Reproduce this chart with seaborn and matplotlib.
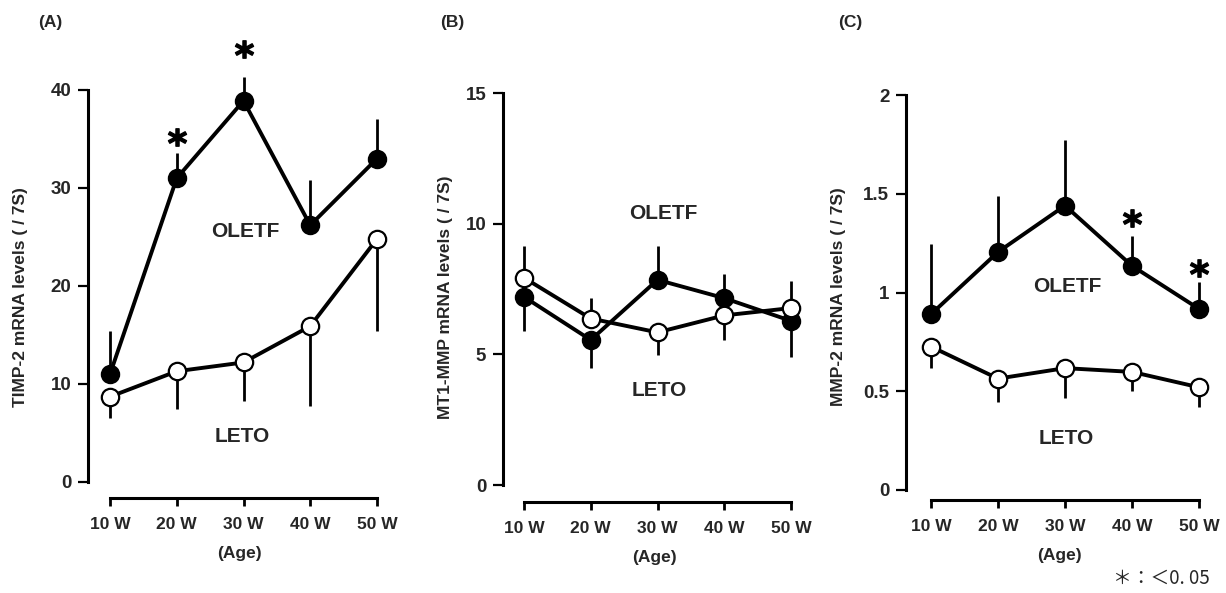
import matplotlib
matplotlib.use("Agg")
import matplotlib.pyplot as plt
import seaborn as sns
import pandas as pd
import numpy as np

# ---------------- data ----------------
ages = ["10 W", "20 W", "30 W", "40 W", "50 W"]

# Panel A: TIMP-2
timp2_oletf = [11.0, 31.0, 38.9, 26.2, 33.0]
timp2_oletf_err = [4.4, 2.6, 2.4, 4.6, 4.0]
timp2_oletf_dir = [1, 1, 1, 1, 1]
timp2_leto = [8.7, 11.3, 12.2, 15.9, 24.8]
timp2_leto_err = [2.2, 3.9, 3.9, 8.1, 9.4]
timp2_leto_dir = [-1, -1, -1, -1, -1]
timp2_yticks = [0, 10, 20, 30, 40]
timp2_sig_idx = [1, 2]
timp2_sig_y = [35.2, 44.2]

# Panel B: MT1-MMP
mt1_oletf = [7.2, 5.55, 7.85, 7.15, 6.28]
mt1_oletf_err = [1.3, 1.08, 1.3, 0.92, 1.38]
mt1_oletf_dir = [-1, -1, 1, 1, -1]
mt1_leto = [7.93, 6.37, 5.84, 6.49, 6.77]
mt1_leto_err = [1.22, 0.78, 0.87, 0.94, 1.03]
mt1_leto_dir = [1, 1, -1, -1, 1]
mt1_yticks = [0, 5, 10, 15]
mt1_sig_idx = []
mt1_sig_y = []

# Panel C: MMP-2
mmp2_oletf = [0.89, 1.205, 1.44, 1.135, 0.917]
mmp2_oletf_err = [0.355, 0.282, 0.33, 0.15, 0.136]
mmp2_oletf_dir = [1, 1, 1, 1, 1]
mmp2_leto = [0.726, 0.564, 0.617, 0.598, 0.52]
mmp2_leto_err = [0.109, 0.12, 0.15, 0.098, 0.10]
mmp2_leto_dir = [-1, -1, -1, -1, -1]
mmp2_yticks = [0, 0.5, 1, 1.5, 2]
mmp2_yticklabels = ["0", "0.5", "1", "1.5", "2"]
mmp2_sig_idx = [3, 4]
mmp2_sig_y = [1.375, 1.125]

# ---------------- style ----------------
sns.set_style("ticks")
plt.rcParams["font.family"] = ["Liberation Sans", "DejaVu Sans"]
plt.rcParams["font.weight"] = "bold"

W, H = 1226, 593
fig = plt.figure(figsize=(W / 100, H / 100), dpi=100)
fig.patch.set_facecolor("white")


def make_axes(yaxis_px, y0_px, ytop_px, ytop_val, first_px, last_px, xspine_px, top_px=40, right_margin=14):
    unit = (last_px - first_px) / 4.0
    left_px = yaxis_px
    right_px = last_px + right_margin
    xmin = -(first_px - left_px) / unit
    xmax = 4 + right_margin / unit
    yscale = (y0_px - ytop_px) / ytop_val
    ylim_top = (y0_px - top_px) / yscale
    ax = fig.add_axes([left_px / W, 1 - y0_px / H, (right_px - left_px) / W, (y0_px - top_px) / H])
    ax.set_xlim(xmin, xmax)
    ax.set_ylim(0, ylim_top)
    off_pt = (xspine_px - y0_px) * 72 / 100
    return ax, off_pt


def draw_panel(ax, off_pt, oletf, oerr, odir, leto, lerr, ldir, yticks, yticklabels,
               ylabel, ylabel_px, letter, letter_px, oletf_pos, leto_pos, sig_idx, sig_y):
    pos = np.arange(len(ages))
    df = pd.DataFrame({"pos": np.concatenate([pos, pos]),
                       "val": oletf + leto,
                       "group": ["OLETF"] * 5 + ["LETO"] * 5})
    # error bars (one-sided)
    ax.vlines(pos, oletf, np.array(oletf) + np.array(odir) * np.array(oerr),
              color="black", lw=2.0, zorder=2)
    ax.vlines(pos, leto, np.array(leto) + np.array(ldir) * np.array(lerr),
              color="black", lw=2.0, zorder=2)
    sns.lineplot(data=df[df.group == "OLETF"], x="pos", y="val", ax=ax, color="black",
                 lw=2.8, marker="o", markersize=12.5, markerfacecolor="black",
                 markeredgecolor="black", markeredgewidth=1.5, zorder=3)
    sns.lineplot(data=df[df.group == "LETO"], x="pos", y="val", ax=ax, color="black",
                 lw=2.8, marker="o", markersize=12.5, markerfacecolor="white",
                 markeredgecolor="black", markeredgewidth=1.6, zorder=4)
    if sig_idx:
        ax.plot([pos[i] for i in sig_idx], sig_y, ls="none", marker="$\\mathbf{*}$",
                ms=13, color="black", clip_on=False, zorder=5)
    ax.set_xticks(pos)
    ax.set_xticklabels(ages)
    ax.set_yticks(yticks)
    ax.set_yticklabels(yticklabels)
    for s in ["left", "bottom"]:
        ax.spines[s].set_linewidth(2.2)
        ax.spines[s].set_color("black")
    sns.despine(ax=ax, offset={"left": 0, "bottom": off_pt}, trim=True)
    ax.tick_params(axis="y", length=7, width=1.6, pad=5, color="black", labelsize=13.5)
    ax.tick_params(axis="x", length=6, width=2.0, pad=8, color="black", labelsize=12.5)
    for t in ax.get_xticklabels() + ax.get_yticklabels():
        t.set_fontweight("bold")
    ax.set_xlabel("(Age)", fontsize=12.5, fontweight="bold", labelpad=10)
    ax.set_ylabel(ylabel, fontsize=12.5, fontweight="bold")
    # ylabel placement in pixels (anchor = right edge of rotated label)
    bb = ax.get_position()
    lx = (ylabel_px[0] / W - bb.x0) / bb.width
    ly = ((1 - ylabel_px[1] / H) - bb.y0) / bb.height
    ax.yaxis.set_label_coords(lx, ly)
    ax.text(oletf_pos[0], oletf_pos[1], "OLETF", ha="center", va="center",
            fontsize=15, fontweight="bold")
    ax.text(leto_pos[0], leto_pos[1], "LETO", ha="center", va="center",
            fontsize=15, fontweight="bold")
    fig.text(letter_px[0] / W, 1 - letter_px[1] / H, letter, ha="left", va="center",
             fontsize=12.5, fontweight="bold")


axA, offA = make_axes(88, 482, 90, 40, 110, 377, 498)
draw_panel(axA, offA, timp2_oletf, timp2_oletf_err, timp2_oletf_dir,
           timp2_leto, timp2_leto_err, timp2_leto_dir,
           timp2_yticks, [str(t) for t in timp2_yticks],
           "TIMP-2 mRNA levels ( / 7S)", (28, 297), "(A)", (38, 22),
           (2.03, 25.6), (1.98, 4.6), timp2_sig_idx, timp2_sig_y)

axB, offB = make_axes(503, 485, 93, 15, 524, 791, 502)
draw_panel(axB, offB, mt1_oletf, mt1_oletf_err, mt1_oletf_dir,
           mt1_leto, mt1_leto_err, mt1_leto_dir,
           mt1_yticks, [str(t) for t in mt1_yticks],
           "MT1-MMP mRNA levels ( / 7S)", (453, 297), "(B)", (440, 22),
           (2.09, 10.4), (2.03, 3.6), mt1_sig_idx, mt1_sig_y)

axC, offC = make_axes(906, 490, 95, 2, 931, 1199, 500)
draw_panel(axC, offC, mmp2_oletf, mmp2_oletf_err, mmp2_oletf_dir,
           mmp2_leto, mmp2_leto_err, mmp2_leto_dir,
           mmp2_yticks, mmp2_yticklabels,
           "MMP-2 mRNA levels ( / 7S)", (846, 297), "(C)", (838, 22),
           (2.04, 1.03), (2.02, 0.26), mmp2_sig_idx, mmp2_sig_y)

fig.text(1210 / W, 1 - 578 / H, "＊：＜0. 05", ha="right", va="center", fontsize=13.5,
         fontweight="normal", family=["Noto Sans CJK JP", "DejaVu Sans"])

fig.savefig("out.png", dpi=100, facecolor="white")
